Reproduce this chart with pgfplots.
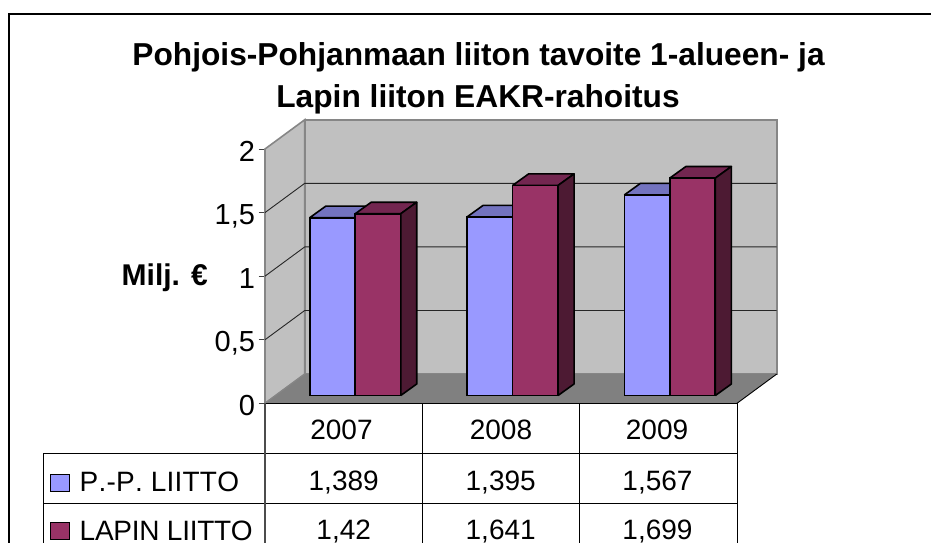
\documentclass[border=0pt]{standalone}
\usepackage{pgfplots}
\usepackage{pgfplotstable}
\usepackage{fontspec}
\setmainfont{Liberation Sans}
\pgfplotsset{compat=1.18}
\definecolor{wall}{HTML}{C0C0C0}
\definecolor{floorc}{HTML}{808080}
\definecolor{edgec}{HTML}{868686}
\definecolor{blueF}{HTML}{9999FF}
\definecolor{blueT}{HTML}{7373BF}
\definecolor{redF}{HTML}{993366}
\definecolor{redT}{HTML}{732650}
\definecolor{redS}{HTML}{4D1A33}
\pgfplotstableread{
x pp lapin
0 1.389 1.42
1 1.395 1.641
2 1.567 1.699
}\datatable
% top face: x-left, x-right, value, colour
\newcommand{\topface}[4]{%
  \pgfmathsetmacro\xa{#1+0.1017}\pgfmathsetmacro\xb{#2+0.1017}\pgfmathsetmacro\yt{#3+0.09}%
  \addplot[draw=black,line width=1.6pt,fill=#4,line join=round] coordinates {(#1,#3) (#2,#3) (\xb,\yt) (\xa,\yt) (#1,#3)};%
}
% side face: x-right, value, colour
\newcommand{\sideface}[3]{%
  \pgfmathsetmacro\xb{#1+0.1017}\pgfmathsetmacro\yt{#2+0.09}%
  \addplot[draw=black,line width=1.6pt,fill=#3,line join=round] coordinates {(#1,0) (#1,#2) (\xb,\yt) (\xb,0.09) (#1,0)};%
}
\newcommand{\bigf}{\fontsize{28}{32}\selectfont}
\newcommand{\tickf}{\fontsize{29}{32}\selectfont}
\newcommand{\labf}{\fontsize{30}{34}\selectfont}
\newcommand{\titf}{\fontsize{31.7}{36}\selectfont}
\begin{document}
\begin{tikzpicture}[x=1pt,y=1pt]
\path[use as bounding box] (0,0) rectangle (931,542);
\clip (0,0) rectangle (931,542);
% outer frame
\begin{scope}[y=-1pt,yshift=542pt]
\draw[black,line width=2.4pt] (8.7,560) -- (8.7,14) -- (950,14);
\end{scope}
% frame axis: walls, floor, scale
\begin{axis}[
  at={(265pt,138.7pt)},anchor=south west,scale only axis,
  width=472pt,height=254.3pt,
  xmin=0,xmax=3,ymin=0,ymax=2,enlargelimits=false,clip=false,
  axis x line=none,axis y line=left,
  axis line style={-,draw=black!70,line width=1.3pt},
  ytick={0,0.5,1,1.5,2},yticklabels={0,{0,5},1,{1,5},2},
  tick style={draw=black!75,line width=0.8pt},
  tick align=outside,major tick length=6.5pt,
  yticklabel style={font=\tickf,inner sep=0pt,outer sep=0pt,text height=20pt,text depth=0pt,xshift=-3.5pt,yshift=-2pt},
  ylabel={\textbf{Milj. €}},
  every axis y label/.style={at={(axis cs:-0.362,0.925)},anchor=base east,inner sep=0pt,font=\labf},
]
% side wall
\addplot[draw=edgec,line width=1.6pt,fill=wall] coordinates {(0,0) (0,2) (0.2525,2.23) (0.2525,0.23) (0,0)};
% back wall
\addplot[draw=edgec,line width=1.6pt,fill=wall] coordinates {(0.2525,0.23) (0.2525,2.23) (3.2525,2.23) (3.2525,0.23) (0.2525,0.23)};
% floor
\addplot[draw=none,fill=floorc] coordinates {(0,0) (0.2525,0.23) (3.2525,0.23) (3,0) (0,0)};
\addplot[draw=black,line width=0.9pt] coordinates {(3,0) (3.2525,0.23)};
\addplot[draw=edgec,line width=1pt] coordinates {(0,0) (0.2525,0.23)};
% grid lines
\addplot[draw=black!85,line width=0.9pt] coordinates {(0,0.5) (0.2525,0.73) (3.2525,0.73)};
\addplot[draw=black!85,line width=0.9pt] coordinates {(0,1) (0.2525,1.23) (3.2525,1.23)};
\addplot[draw=black!85,line width=0.9pt] coordinates {(0,1.5) (0.2525,1.73) (3.2525,1.73)};
\end{axis}
% bars
\begin{axis}[
  at={(265pt,146.5pt)},anchor=south west,scale only axis,
  width=472pt,height=256pt,
  xmin=-0.5,xmax=2.5,ymin=0,ymax=2,enlargelimits=false,clip=false,
  axis lines=none,
]
\topface{-0.2158}{0.0734}{1.389}{blueT}
\topface{0.7842}{1.0734}{1.395}{blueT}
\topface{1.7842}{2.0734}{1.567}{blueT}
\addplot[ybar,bar width=45.5pt,bar shift=-11.2pt,draw=black,line width=1.6pt,fill=blueF] table[x=x,y=pp] {\datatable};
\topface{0.0734}{0.3626}{1.42}{redT}
\topface{1.0734}{1.3626}{1.641}{redT}
\topface{2.0734}{2.3626}{1.699}{redT}
\sideface{0.3626}{1.42}{redS}
\sideface{1.3626}{1.641}{redS}
\sideface{2.3626}{1.699}{redS}
\addplot[ybar,bar width=45.5pt,bar shift=34.2pt,draw=black,line width=1.6pt,fill=redF] table[x=x,y=lapin] {\datatable};
\end{axis}
\begin{scope}[y=-1pt,yshift=542pt]
% title
\node[font=\titf\bfseries,anchor=center] at (478.5,57) {Pohjois-Pohjanmaan liiton tavoite 1-alueen- ja};
\node[font=\titf\bfseries,anchor=center] at (478,99) {Lapin liiton EAKR-rahoitus};
% data table
\draw[black,line width=0.9pt]
  (265,403.3) -- (737,403.3)
  (422.5,403.3) -- (422.5,545) (579,403.3) -- (579,545) (737,403.3) -- (737,545)
  (43,453) -- (737,453) (43,503.3) -- (737,503.3) (43,453) -- (43,545);
\draw[black!70,line width=1.3pt] (265,403.3) -- (265,545);
\draw[black,line width=1pt,fill=blueF] (50.5,474) rectangle (69.5,491.5);
\draw[black,line width=1pt,fill=redF] (50.5,522) rectangle (69.5,539.5);
\node[font=\bigf,anchor=base west,inner sep=0pt] at (79.5,491.7) {\addfontfeature{Kerning=Off,LetterSpace=0.8}P.-P. LIITTO};
\node[font=\bigf,anchor=base west,inner sep=0pt] at (79.5,540.5) {\addfontfeature{Kerning=Off,LetterSpace=-1}LAPIN LIITTO};
\foreach \x/\h/\a/\b/\c in {343.7/341.5/2007/{1,389}/{1,42},500.7/501/2008/{1,395}/{1,641},657.5/657/2009/{1,567}/{1,699}}{
  \node[font=\bigf,anchor=base,inner sep=0pt] at (\h,439) {\a};
  \node[font=\bigf,anchor=base,inner sep=0pt] at (\x,490.5) {\b};
  \node[font=\bigf,anchor=base,inner sep=0pt] at (\x,539) {\c};
}
\end{scope}
\end{tikzpicture}
\end{document}
